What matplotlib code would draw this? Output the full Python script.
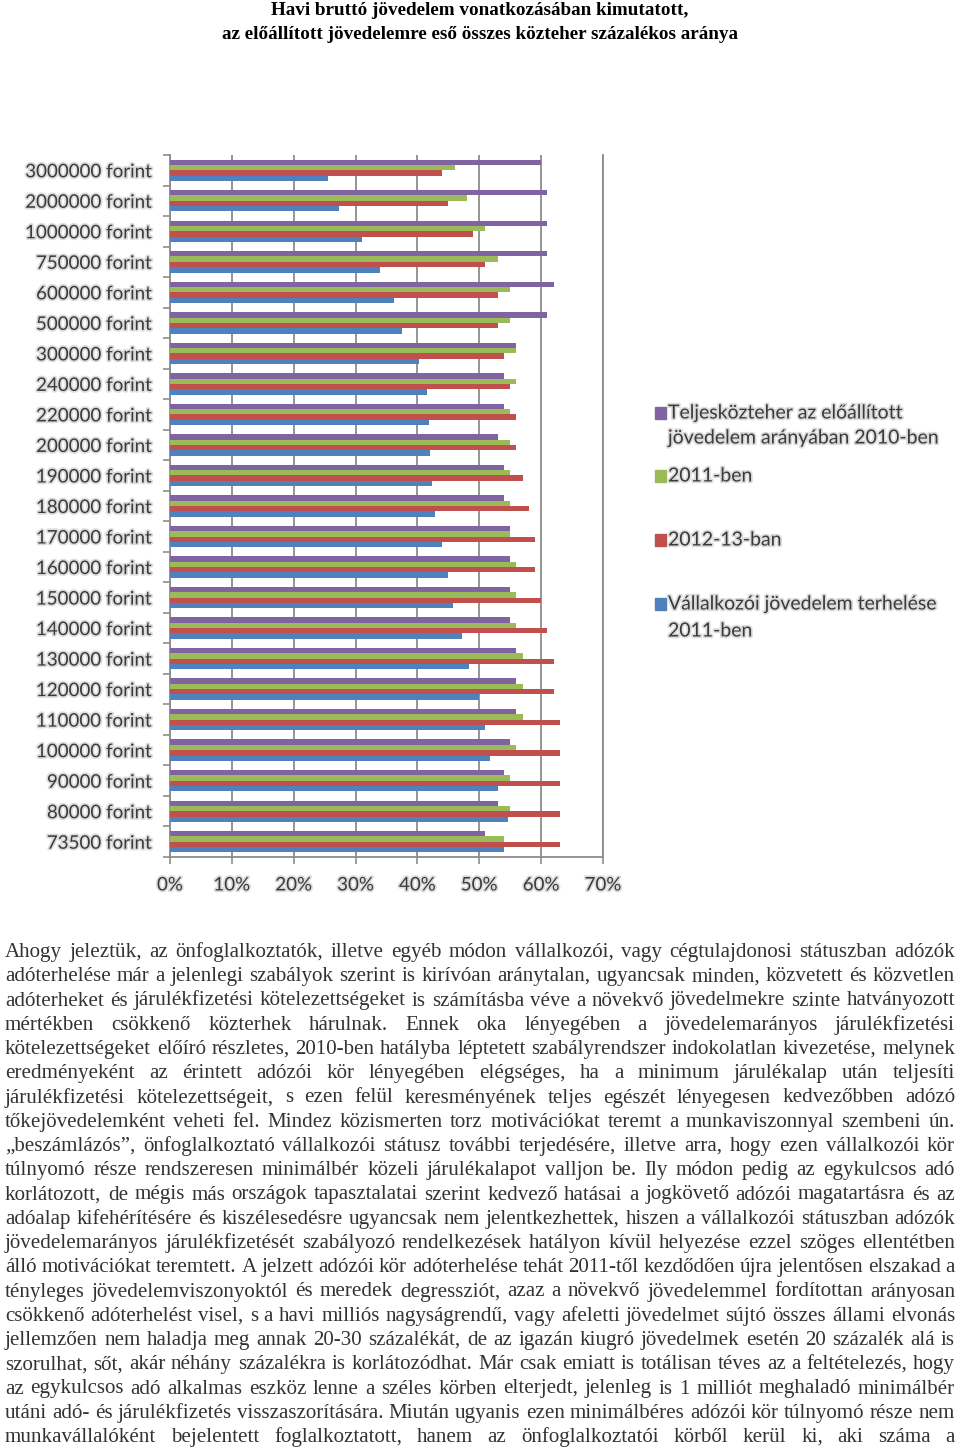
import numpy as np
import matplotlib.pyplot as plt
from matplotlib.patches import Rectangle
import matplotlib.patheffects as pe

# adatok (felülről lefelé)
jovedelem = ["3000000 forint", "2000000 forint", "1000000 forint", "750000 forint",
             "600000 forint", "500000 forint", "300000 forint", "240000 forint",
             "220000 forint", "200000 forint", "190000 forint", "180000 forint",
             "170000 forint", "160000 forint", "150000 forint", "140000 forint",
             "130000 forint", "120000 forint", "110000 forint", "100000 forint",
             "90000 forint", "80000 forint", "73500 forint"]
teljes_2010 = [60, 61, 61, 61, 62, 61, 56, 54, 54, 53, 54, 54, 55, 55, 55, 55, 56, 56, 56, 55, 54, 53, 51]
ev_2011 = [46, 48, 51, 53, 55, 55, 56, 56, 55, 55, 55, 55, 55, 56, 56, 56, 57, 57, 57, 56, 55, 55, 54]
ev_2012_13 = [44, 45, 49, 51, 53, 53, 54, 55, 56, 56, 57, 58, 59, 59, 60, 61, 62, 62, 63, 63, 63, 63, 63]
vallalkozoi_2011 = [25.5, 27.3, 31.1, 33.9, 36.2, 37.5, 40.2, 41.5, 41.8, 42.1, 42.3, 42.8, 43.9,
                    44.9, 45.8, 47.2, 48.4, 49.9, 51, 51.8, 53, 54.6, 54]
x_ticks = [0, 10, 20, 30, 40, 50, 60, 70]

series = [teljes_2010, ev_2011, ev_2012_13, vallalkozoi_2011]
colors = ["#8064A2", "#9BBB59", "#C0504D", "#4F81BD"]
legend_lines = [["Teljesközteher az előállított", "jövedelem arányában 2010-ben"],
                ["2011-ben"],
                ["2012-13-ban"],
                ["Vállalkozói jövedelem terhelése", "2011-ben"]]

title_lines = ["Havi bruttó jövedelem vonatkozásában kimutatott,",
               "az előállított jövedelemre eső összes közteher százalékos aránya"]

body = [
    "Ahogy jeleztük, az önfoglalkoztatók, illetve egyéb módon vállalkozói, vagy cégtulajdonosi státuszban adózók",
    "adóterhelése már a jelenlegi szabályok szerint is kirívóan aránytalan, ugyancsak minden, közvetett és közvetlen",
    "adóterheket és járulékfizetési kötelezettségeket is számításba véve a növekvő jövedelmekre szinte hatványozott",
    "mértékben csökkenő közterhek hárulnak. Ennek oka lényegében a jövedelemarányos járulékfizetési",
    "kötelezettségeket előíró részletes, 2010-ben hatályba léptetett szabályrendszer indokolatlan kivezetése, melynek",
    "eredményeként az érintett adózói kör lényegében elégséges, ha a minimum járulékalap után teljesíti",
    "járulékfizetési kötelezettségeit, s ezen felül keresményének teljes egészét lényegesen kedvezőbben adózó",
    "tőkejövedelemként veheti fel. Mindez közismerten torz motivációkat teremt a munkaviszonnyal szembeni ún.",
    "„beszámlázós”, önfoglalkoztató vállalkozói státusz további terjedésére, illetve arra, hogy ezen vállalkozói kör",
    "túlnyomó része rendszeresen minimálbér közeli járulékalapot valljon be. Ily módon pedig az egykulcsos adó",
    "korlátozott, de mégis más országok tapasztalatai szerint kedvező hatásai a jogkövető adózói magatartásra és az",
    "adóalap kifehérítésére és kiszélesedésre ugyancsak nem jelentkezhettek, hiszen a vállalkozói státuszban adózók",
    "jövedelemarányos járulékfizetését szabályozó rendelkezések hatályon kívül helyezése ezzel szöges ellentétben",
    "álló motivációkat teremtett. A jelzett adózói kör adóterhelése tehát 2011-től kezdődően újra jelentősen elszakad a",
    "tényleges jövedelemviszonyoktól és meredek degressziót, azaz a növekvő jövedelemmel fordítottan arányosan",
    "csökkenő adóterhelést visel, s a havi milliós nagyságrendű, vagy afeletti jövedelmet sújtó összes állami elvonás",
    "jellemzően nem haladja meg annak 20-30 százalékát, de az igazán kiugró jövedelmek esetén 20 százalék alá is",
    "szorulhat, sőt, akár néhány százalékra is korlátozódhat. Már csak emiatt is totálisan téves az a feltételezés, hogy",
    "az egykulcsos adó alkalmas eszköz lenne a széles körben elterjedt, jelenleg is 1 milliót meghaladó minimálbér",
    "utáni adó- és járulékfizetés visszaszorítására. Miután ugyanis ezen minimálbéres adózói kör túlnyomó része nem",
    "munkavállalóként bejelentett foglalkoztatott, hanem az önfoglalkoztatói körből kerül ki, aki száma a",
]

W, H = 960, 1448
fig = plt.figure(figsize=(W / 100, H / 100), dpi=100)
fig.patch.set_facecolor("white")
renderer = fig.canvas.get_renderer()

for line, yy in zip(title_lines, [15, 39]):
    fig.text(0.5, 1 - yy / H, line, ha="center", va="baseline", fontsize=13.8, fontweight="bold",
             family="Liberation Serif", color="black")

ax = fig.add_axes([170 / W, 1 - 857 / H, 433 / W, 702 / H])
y = np.arange(len(jovedelem))
h = 0.175
offsets = [-1.5 * h, -0.5 * h, 0.5 * h, 1.5 * h]
for vals, c, off in zip(series, colors, offsets):
    ax.barh(y + off, vals, height=h, color=c, zorder=3)

ax.set_xlim(0, 70)
ax.set_ylim(len(jovedelem) - 0.5, -0.5)
ax.set_xticks(x_ticks)
ax.set_xticklabels([f"{v}%" for v in x_ticks])
ax.set_yticks(y)
ax.set_yticklabels(jovedelem)
ax.set_yticks(np.arange(len(jovedelem) + 1) - 0.5, minor=True)
ax.tick_params(axis="y", which="major", length=0, pad=13)
ax.tick_params(axis="y", which="minor", length=5, color="#8c8c8c", width=1.2)
ax.tick_params(axis="x", length=5, color="#8c8c8c", width=1.2, pad=9)
ax.grid(axis="x", color="#8c8c8c", lw=1.3, zorder=0)
ax.grid(axis="y", visible=False)
for s in ["top", "right"]:
    ax.spines[s].set_visible(False)
for s in ["left", "bottom"]:
    ax.spines[s].set_color("#8c8c8c")
    ax.spines[s].set_linewidth(1.3)
ax.axvline(70, color="#8c8c8c", lw=1.3, clip_on=False, zorder=0)

glow = [pe.withStroke(linewidth=2.5, foreground="#dcdcdc")]
for lab in ax.get_yticklabels() + ax.get_xticklabels():
    lab.set_family("Lato")
    lab.set_fontsize(13.5)
    lab.set_color("#3a3a3a")
    lab.set_path_effects(glow)

# jelmagyarázat
legend_y = [[413, 438], [476], [540], [604, 631]]
for lines, ys, c in zip(legend_lines, legend_y, colors):
    fig.patches.append(Rectangle((655 / W, 1 - (ys[0] + 6) / H), 11 / W, 12 / H,
                                 transform=fig.transFigure, color=c))
    for line, yy in zip(lines, ys):
        fig.text(668 / W, 1 - yy / H, line, ha="left", va="center", family="Lato",
                 fontsize=14, color="#3a3a3a", path_effects=glow)

# sorkizárt szöveg
x0, x1 = 5, 955
base_size = 12.0
probe = fig.text(0, 0, "", family="Liberation Serif", fontsize=base_size)
widest = 0
for line in body:
    probe.set_text(line)
    widest = max(widest, probe.get_window_extent(renderer).width)
probe.remove()
body_size = base_size * (x1 - x0 - 4) / widest

base0, step = 957, 24.25
for i, line in enumerate(body):
    words = line.split(" ")
    yy = 1 - (base0 + i * step) / H
    texts = [fig.text(0, yy, w, family="Liberation Serif", fontsize=body_size,
                      color="#333333", va="baseline", ha="left") for w in words]
    widths = [t.get_window_extent(renderer).width for t in texts]
    gap = (x1 - x0 - sum(widths)) / max(len(words) - 1, 1)
    x = x0
    for t, wd in zip(texts, widths):
        t.set_x(x / W)
        x += wd + gap

fig.savefig("out.png", dpi=100)
